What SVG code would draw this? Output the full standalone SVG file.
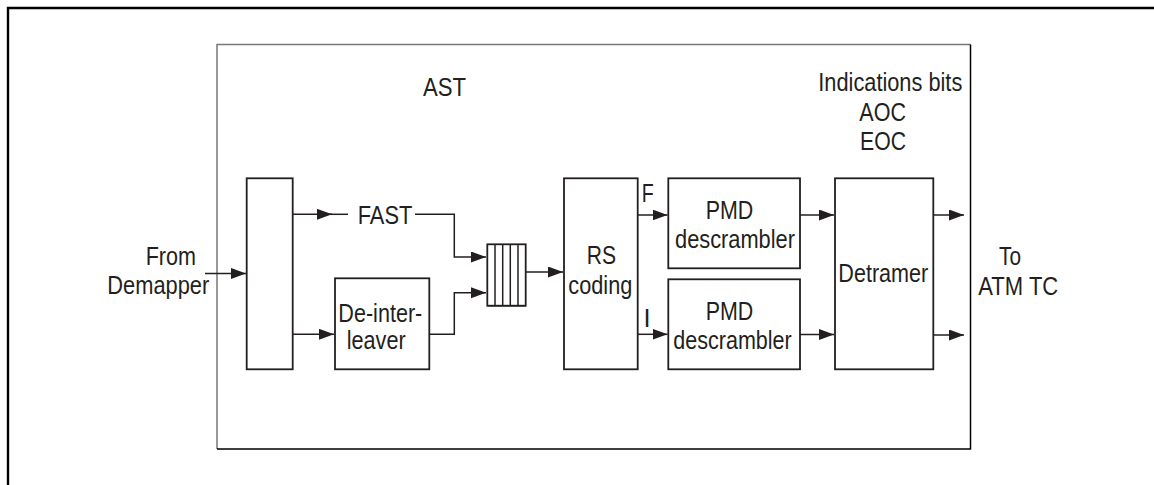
<svg xmlns="http://www.w3.org/2000/svg" width="1154" height="485" viewBox="0 0 1154 485">
<style>
text{font-family:"Liberation Sans",Arial,sans-serif;font-size:25.5px;fill:#231f20}
.box{fill:#fff;stroke:#231f20;stroke-width:1.8}
.ln{fill:none;stroke:#231f20;stroke-width:1.5}
.arr{fill:none;stroke:#231f20;stroke-width:1.5;marker-end:url(#ah)}
</style>
<defs>
<marker id="ah" markerUnits="userSpaceOnUse" markerWidth="16" markerHeight="12" refX="15" refY="5.5" orient="auto">
<path d="M0,0 L15,5.5 L0,11 z" fill="#231f20"/>
</marker>
</defs>
<rect width="1154" height="485" fill="#fff"/>
<path d="M8,485 V8 H1154" fill="none" stroke="#000" stroke-width="2.4"/>
<g id="ast">
<path d="M217,449 V44.5 H970.5" fill="none" stroke="#777" stroke-width="1.5"/>
<path d="M970.5,44.5 V449 H217" fill="none" stroke="#000" stroke-width="1.5"/>
<text x="423" y="95.7" textLength="43" lengthAdjust="spacingAndGlyphs">AST</text>
</g>
<g id="indications">
<text x="818.3" y="91" textLength="144" lengthAdjust="spacingAndGlyphs">Indications bits</text>
<text x="859.3" y="121" textLength="46.7" lengthAdjust="spacingAndGlyphs">AOC</text>
<text x="860" y="150" textLength="46" lengthAdjust="spacingAndGlyphs">EOC</text>
</g>
<g id="from">
<text x="145.7" y="265" textLength="50.3" lengthAdjust="spacingAndGlyphs">From</text>
<text x="107.3" y="294" textLength="102" lengthAdjust="spacingAndGlyphs">Demapper</text>
</g>
<g id="splitter">
<rect class="box" x="246.7" y="178.3" width="46" height="191"/>
</g>
<g id="fast">
<text x="357.7" y="224" textLength="54.6" lengthAdjust="spacingAndGlyphs">FAST</text>
</g>
<g id="deinterleaver">
<rect class="box" x="335" y="278.3" width="94.3" height="91"/>
<text x="338.3" y="321.7" textLength="84" lengthAdjust="spacingAndGlyphs">De-inter-</text>
<text x="346.7" y="349.3" textLength="59" lengthAdjust="spacingAndGlyphs">leaver</text>
</g>
<g id="buffer">
<rect class="box" x="487.3" y="244.3" width="38.4" height="61.4"/>
<path d="M495,244.3 V305.7 M502.7,244.3 V305.7 M510.3,244.3 V305.7 M518,244.3 V305.7" class="ln" stroke-width="1.7"/>
<path d="M487.3,305.7 H525.7" class="ln" stroke-width="2.6"/>
</g>
<g id="rs">
<rect class="box" x="564" y="178.3" width="73.7" height="191"/>
<text x="586.7" y="264.3" textLength="29.3" lengthAdjust="spacingAndGlyphs">RS</text>
<text x="568.3" y="294" textLength="64" lengthAdjust="spacingAndGlyphs">coding</text>
</g>
<g id="pmd1">
<rect class="box" x="668.3" y="178.3" width="131.7" height="90"/>
<text x="705.7" y="219" textLength="47.6" lengthAdjust="spacingAndGlyphs">PMD</text>
<text x="675" y="248.3" textLength="120" lengthAdjust="spacingAndGlyphs">descrambler</text>
</g>
<g id="pmd2">
<rect class="box" x="668.3" y="279.3" width="131.7" height="90"/>
<text x="705.7" y="320" textLength="47.6" lengthAdjust="spacingAndGlyphs">PMD</text>
<text x="673.3" y="349" textLength="118.4" lengthAdjust="spacingAndGlyphs">descrambler</text>
</g>
<g id="detramer">
<rect class="box" x="835" y="178.3" width="98.3" height="191"/>
<text x="838.3" y="282.3" textLength="90" lengthAdjust="spacingAndGlyphs">Detramer</text>
</g>
<g id="to">
<text x="999" y="265" textLength="22" lengthAdjust="spacingAndGlyphs">To</text>
<text x="978.3" y="295" textLength="80" lengthAdjust="spacingAndGlyphs">ATM TC</text>
</g>
<g id="connectors">
<path class="arr" d="M205,273.5 H246"/>
<path class="arr" d="M292.7,214.3 H332"/>
<path class="ln" d="M330,214.3 H348"/>
<path class="arr" d="M415,214.3 H454.3 V257 H486"/>
<path class="arr" d="M292.7,334.3 H334"/>
<path class="arr" d="M429.3,334.3 H454.3 V292.7 H486"/>
<path class="arr" d="M525.7,272 H563"/>
<path class="arr" d="M637.7,215 H667.5"/>
<path class="arr" d="M637.7,334.3 H667.5"/>
<path class="arr" d="M800,215 H834"/>
<path class="arr" d="M800,334.5 H834"/>
<path class="arr" d="M933.3,215 H964"/>
<path class="arr" d="M933.3,335 H964"/>
<text x="641.7" y="201.7" textLength="12" lengthAdjust="spacingAndGlyphs">F</text>
<text x="643.5" y="326.7">I</text>
</g>
</svg>
